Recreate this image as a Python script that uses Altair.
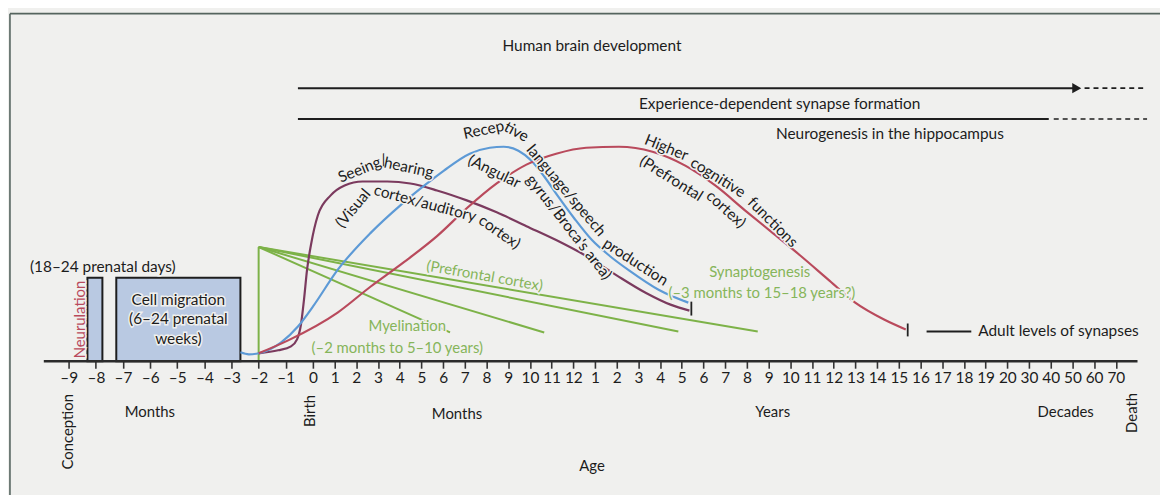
import altair as alt
import pandas as pd

FONT = "Lato"
BG = "#f0f0ee"
INK = "#1c1c1c"
PURPLE = "#7b3a5e"
BLUE = "#5d9ad6"
RED = "#b94a5c"
GREEN = "#7db248"
GREEN_TXT = "#86b55a"
BOX_FILL = "#b9c9e2"
FRAME = "#55645e"

# ---------------- data ----------------
# x = position on the age axis (one prenatal month = 1.25 units, one postnatal tick = 1 unit)
# y = relative level above the age axis
tick_pos = [-11.25, -10, -8.75, -7.5, -6.25, -5, -3.75, -2.5, -1.25,
            0, 1, 2, 3, 4, 5, 6, 7, 8, 9, 10, 11, 12,
            13, 14, 15, 16, 17, 18, 19, 20, 21, 22, 23, 24, 25, 26, 27, 28, 29, 30, 31, 32,
            33, 34, 35, 36, 37]
tick_labels = ["–9", "–8", "–7", "–6", "–5", "–4", "–3", "–2", "–1",
               "0", "1", "2", "3", "4", "5", "6", "7", "8", "9", "10", "11", "12",
               "1", "2", "3", "4", "5", "6", "7", "8", "9", "10", "11", "12", "13", "14", "15", "16",
               "17", "18", "19", "20",
               "30", "40", "50", "60", "70"]

purple_x = [-2.5, -1.60, -1.01, -0.73, -0.55, -0.41, -0.27, -0.09, 0.23, 0.82, 1.46, 2.29, 3.43,
            4.49, 5.72, 7.09, 8.47, 9.84, 11.21, 12.59, 13.96, 15.33, 16.48, 17.35]
purple_y = [8, 11, 15, 22, 37, 62, 92, 117, 147, 167, 177, 181, 181,
            179, 172, 162, 150, 136, 122, 106, 87, 69, 57, 51]

blue_x = [-3.34, -2.95, -2.5, -1.46, -0.69, 0.0, 1.14, 2.65, 4.03, 5.26, 6.04, 7.23, 8.15, 8.79,
          9.47, 10.07, 10.66, 11.30, 12.04, 12.86, 13.68, 14.60, 15.93, 17.30]
blue_y = [9, 7, 8, 19, 35, 55, 92, 129, 157, 179, 192, 209, 215, 216,
          212, 202, 186, 166, 144, 122, 106, 91, 72, 59]

red_x = [-2.5, -1.14, 1.14, 2.65, 4.21, 5.72, 7.09, 8.47, 9.84, 11.21, 12.59, 14.10, 15.65, 17.16,
         18.54, 19.91, 21.14, 22.43, 23.71, 24.99, 26.32, 27.32]
red_y = [8, 21, 49, 75, 100, 126, 154, 179, 198, 209, 215, 216, 211, 197,
         177, 152, 130, 107, 83, 59, 42, 32]

green_apex = (-2.5, 115)
green_end_x = [6.32, 10.66, 16.84, 20.50]
green_end_y = [29, 29, 30, 30]

box_x1 = [-10.39, -9.06]
box_x2 = [-9.70, -3.34]
box_top = [84, 84]

end_bar_x = [17.44, 27.41]
end_bar_lo = [46, 25]
end_bar_hi = [60, 38]

top_line_y = [275, 244]
top_line_start = [-0.69, -0.69]
top_line_end = [35.2, 33.91]
top_dash_start = [35.56, 34.14]
top_dash_end = [38.44, 38.44]

texts = [
    # text, x, y, angle, colour, size
    ("Human brain development", 12.86, 317, 0, INK, 15.5),
    ("Experience-dependent synapse formation", 21.51, 259, 0, INK, 15.5),
    ("Neurogenesis in the hippocampus", 26.59, 229, 0, INK, 15.5),
    ("(18–24 prenatal days)", -9.68, 95, 0, INK, 15.5),
    ("Neurulation", -10.71, 42, 270, RED, 15),
    ("Cell migration", -6.20, 62, 0, INK, 15.5),
    ("(6–24 prenatal", -6.20, 42, 0, INK, 15.5),
    ("weeks)", -6.20, 22, 0, INK, 15.5),
    ("Conception", -11.30, -71, 270, INK, 15),
    ("Months", -7.51, -51, 0, INK, 15),
    ("Birth", -0.14, -50, 270, INK, 15),
    ("Months", 6.64, -53, 0, INK, 15),
    ("Years", 21.19, -51, 0, INK, 15),
    ("Decades", 34.69, -51, 0, INK, 15),
    ("Death", 37.76, -52, 270, INK, 15),
    ("Age", 12.86, -106, 0, INK, 15),
    ("Seeing/", 2.30, 194, -22, INK, 15.5),
    ("hearing", 4.42, 195, 12, INK, 15.5),
    ("(Visual", 1.85, 154, -50, INK, 15.5),
    ("cortex/auditory", 5.17, 159, 15, INK, 15.5),
    ("cortex)", 8.60, 130, 35, INK, 15.5),
    ("Recep", 7.87, 233, -12, INK, 15.5),
    ("tive", 9.38, 231, 28, INK, 15.5),
    ("language/speech", 11.67, 172, 50, INK, 15.5),
    ("production", 14.87, 100, 33, INK, 15.5),
    ("(Angular", 8.36, 191, 26, INK, 15.5),
    ("gyrus/Broca's area)", 11.80, 135, 52, INK, 15.5),
    ("Higher", 16.29, 215, 22, INK, 15.5),
    ("cognitive", 18.67, 185, 32, INK, 15.5),
    ("functions", 21.19, 140, 45, INK, 15.5),
    ("(Prefrontal", 16.52, 184, 32, INK, 15.5),
    ("cortex)", 19.04, 153, 42, INK, 15.5),
    ("(Prefrontal cortex)", 7.92, 86, 10, GREEN_TXT, 15),
    ("Myelination", 4.35, 35, 0, GREEN_TXT, 15),
    ("(–2 months to 5–10 years)", 3.89, 13, 0, GREEN_TXT, 15),
    ("Synaptogenesis", 20.59, 90, 0, GREEN_TXT, 15),
    ("(–3 months to 15–18 years?)", 20.69, 69, 0, GREEN_TXT, 15),
]
adult_text = ("Adult levels of synapses", 30.66, 30)
adult_dash = (28.28, 30.34, 30)

frame_left_x = -13.96
frame_top_y = 350
frame_right_x = 39.1
frame_bottom_y = -141

axis_line = (-12.4, 38.0)

# ---------------- scales / axis ----------------
label_expr = "[" + ",".join("'%s'" % t for t in tick_labels) + "][indexof([" + \
    ",".join(str(p) for p in tick_pos) + "], datum.value)]"

xscale = alt.Scale(domain=[-14.05, 38.67], nice=False, zero=False)
yscale = alt.Scale(domain=[0, 354], nice=False, zero=False)
xaxis = alt.Axis(values=tick_pos, labelExpr=label_expr, domain=False, grid=False, title=None,
                 ticks=True, tickSize=7, tickWidth=1.6, tickColor="#333333",
                 labelFont=FONT, labelFontSize=15.5, labelColor="#1c1c1c", labelPadding=2,
                 labelOverlap=False, labelFlush=False, labelBound=False)


def X(f):
    return alt.X(f, type="quantitative", scale=xscale, axis=xaxis)


def Y(f):
    return alt.Y(f, type="quantitative", scale=yscale, axis=None)


# ---------------- layers ----------------
curves = pd.concat([
    pd.DataFrame({"x": purple_x, "y": purple_y, "s": "purple", "o": range(len(purple_x))}),
    pd.DataFrame({"x": blue_x, "y": blue_y, "s": "blue", "o": range(len(blue_x))}),
    pd.DataFrame({"x": red_x, "y": red_y, "s": "red", "o": range(len(red_x))}),
])
curve_layer = alt.Chart(curves).mark_line(strokeWidth=2.2, interpolate="monotone").encode(
    x=X("x"), y=Y("y"), order="o:Q",
    color=alt.Color("s:N", scale=alt.Scale(domain=["purple", "blue", "red"], range=[PURPLE, BLUE, RED]),
                    legend=None),
)

frame_df = pd.DataFrame({
    "x": [frame_left_x, frame_left_x], "x2": [frame_right_x, frame_left_x],
    "y": [frame_top_y, frame_top_y], "y2": [frame_top_y, frame_bottom_y]})
frame_layer = alt.Chart(frame_df).mark_rule(color=FRAME, strokeWidth=1.6).encode(
    x=X("x"), x2="x2", y=Y("y"), y2="y2")

box_df = pd.DataFrame({"x": box_x1, "x2": box_x2, "y": [0, 0], "y2": box_top})
box_layer = alt.Chart(box_df).mark_rect(fill=BOX_FILL, stroke="#1e1e1e", strokeWidth=2).encode(
    x=X("x"), x2="x2", y=Y("y"), y2="y2")

axis_df = pd.DataFrame({"x": [axis_line[0]], "x2": [axis_line[1]], "y": [0]})
axis_layer = alt.Chart(axis_df).mark_rule(color="#2b2b2b", strokeWidth=2.6).encode(
    x=X("x"), x2="x2", y=Y("y"))

green_df = pd.DataFrame({
    "x": [green_apex[0]] * (len(green_end_x) + 1),
    "y": [green_apex[1]] * (len(green_end_x) + 1),
    "x2": green_end_x + [green_apex[0]],
    "y2": green_end_y + [0]})
green_layer = alt.Chart(green_df).mark_rule(color=GREEN, strokeWidth=2).encode(
    x=X("x"), y=Y("y"), x2="x2", y2="y2")

bar_df = pd.DataFrame({"x": end_bar_x, "y": end_bar_lo, "y2": end_bar_hi})
bar_layer = alt.Chart(bar_df).mark_rule(color="#222222", strokeWidth=1.8).encode(
    x=X("x"), y=Y("y"), y2="y2")

top_df = pd.DataFrame({"x": top_line_start, "x2": top_line_end, "y": top_line_y})
top_layer = alt.Chart(top_df).mark_rule(color="#1e1e1e", strokeWidth=2).encode(
    x=X("x"), x2="x2", y=Y("y"))
dash_df = pd.DataFrame({"x": top_dash_start, "x2": top_dash_end, "y": top_line_y})
dash_layer = alt.Chart(dash_df).mark_rule(color="#1e1e1e", strokeWidth=1.6, strokeDash=[5, 4]).encode(
    x=X("x"), x2="x2", y=Y("y"))
arrow_df = pd.DataFrame({"x": [top_line_end[0]], "y": [top_line_y[0]]})
arrow_layer = alt.Chart(arrow_df).mark_point(shape="triangle-right", filled=True, size=110,
                                             color="#1e1e1e", opacity=1).encode(
    x=X("x"), y=Y("y"))

adult_dash_df = pd.DataFrame({"x": [adult_dash[0]], "x2": [adult_dash[1]], "y": [adult_dash[2]]})
adult_dash_layer = alt.Chart(adult_dash_df).mark_rule(color="#1e1e1e", strokeWidth=2).encode(
    x=X("x"), x2="x2", y=Y("y"))

text_df = pd.DataFrame(texts, columns=["t", "x", "y", "a", "c", "s"])
text_df["a"] = text_df["a"] % 360
text_enc = dict(
    x=X("x"), y=Y("y"), text="t:N",
    angle=alt.Angle("a:Q", scale=None),
    size=alt.Size("s:Q", scale=None))
# background-coloured halo so that lines are interrupted where text crosses them
halo_layer = alt.Chart(text_df).mark_text(font=FONT, align="center", baseline="middle",
                                          stroke=BG, strokeWidth=3, color=BG).encode(**text_enc)
text_layer = alt.Chart(text_df).mark_text(font=FONT, align="center", baseline="middle").encode(
    color=alt.Color("c:N", scale=None), **text_enc)

adult_df = pd.DataFrame({"t": [adult_text[0]], "x": [adult_text[1]], "y": [adult_text[2]]})
adult_layer = alt.Chart(adult_df).mark_text(font=FONT, align="left", baseline="middle",
                                            fontSize=15.5, color=INK).encode(
    x=X("x"), y=Y("y"), text="t:N")

chart = alt.layer(
    frame_layer, box_layer, green_layer, curve_layer, bar_layer, axis_layer,
    top_layer, dash_layer, arrow_layer, adult_dash_layer, halo_layer, text_layer, adult_layer
).properties(
    width=1152, height=354,
    autosize=alt.AutoSizeParams(type="none"),
    padding={"left": 0, "top": 0, "right": 8, "bottom": 133},
    background=BG,
).configure_view(stroke=None)

chart.save("out.html", embed_options={"renderer": "svg", "actions": False})
